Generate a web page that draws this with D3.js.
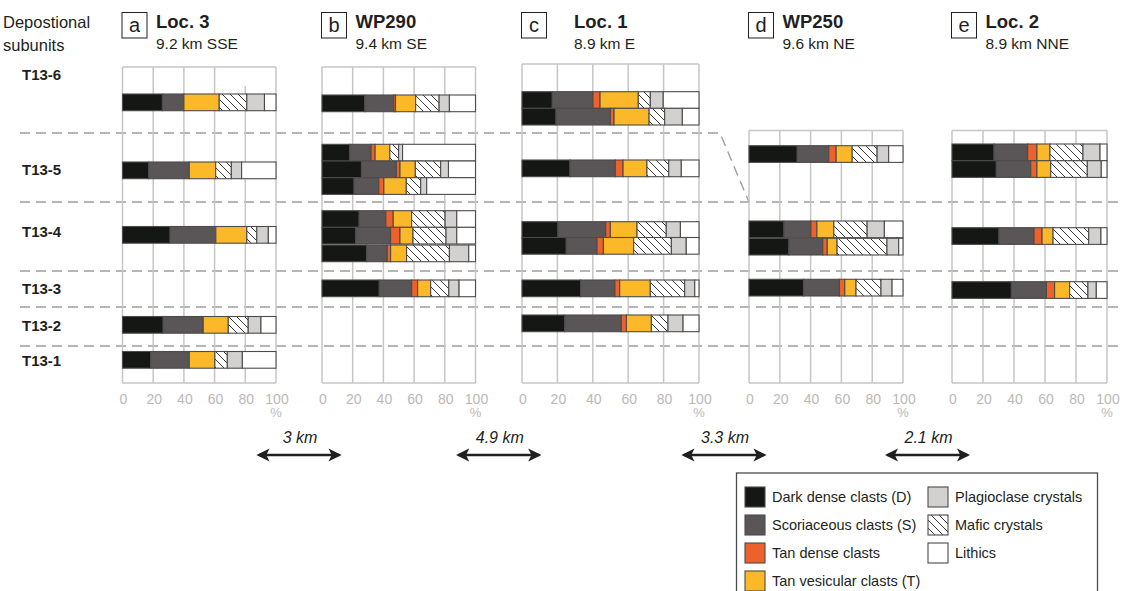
<!DOCTYPE html>
<html>
<head>
<meta charset="utf-8">
<script src="https://cdn.jsdelivr.net/npm/d3@7"></script>
<style>
  body { margin: 0; background: #fff; }
  svg { font-family: "Liberation Sans", Arial, sans-serif; }
</style>
</head>
<body>
<svg id="chart" width="1133" height="591"></svg>
<script>
// component order as stacked in each bar
const components = ["Dark dense clasts (D)", "Scoriaceous clasts (S)", "Tan dense clasts",
  "Tan vesicular clasts (T)", "Mafic crystals", "Plagioclase crystals", "Lithics"];
const fills = ["#151714", "#5a5557", "#ec612c", "#fbb829", "url(#mafic)", "#d3d1d0", "#ffffff"];

const unitLabels = ["T13-6", "T13-5", "T13-4", "T13-3", "T13-2", "T13-1"];
// stratigraphic level of unit boundaries, top to bottom
const unitBounds = [316, 250, 181, 112, 76, 37, 0];
const unitLabelLevels = [308, 213, 151, 94, 57, 22];

const panelLetters = ["a", "b", "c", "d", "e"];
const panelNames = ["Loc. 3", "WP290", "Loc. 1", "WP250", "Loc. 2"];
const panelDist = ["9.2 km SSE", "9.4 km SE", "8.9 km E", "9.6 km NE", "8.9 km NNE"];
const distances = ["3 km", "4.9 km", "3.3 km", "2.1 km"];
const ticks = [0, 20, 40, 60, 80, 100];

// bar samples: level = top of the bar, values = % of each component
const loc3 = [
  {unit: "T13-6", level: 289,   values: [26, 14, 0, 23, 18, 11.5, 7.5]},
  {unit: "T13-5", level: 221,   values: [17, 26.5, 0, 17.2, 10.2, 6.7, 22.4]},
  {unit: "T13-4", level: 156.5, values: [31, 29.8, 0, 20.2, 6.5, 7.5, 5]},
  {unit: "T13-2", level: 66.5,  values: [26.5, 26.1, 0, 16.3, 13, 8.3, 9.8]},
  {unit: "T13-1", level: 31.5,  values: [18.3, 25.2, 0, 16.7, 8.1, 9.8, 21.9]}
];
const wp290 = [
  {unit: "T13-6", level: 288,   values: [27.9, 18.9, 1.1, 13.1, 15.3, 6.7, 17]},
  {unit: "T13-5", level: 238.7, values: [18.1, 13.9, 2.6, 9.6, 5.7, 2.6, 47.5]},
  {unit: "T13-5", level: 222,   values: [25.7, 22.7, 2.4, 10, 16.5, 5.1, 17.6]},
  {unit: "T13-5", level: 205.3, values: [20.9, 16.1, 3.3, 14.6, 9.4, 3.9, 31.8]},
  {unit: "T13-4", level: 172.3, values: [24.2, 17.4, 4.8, 12, 21.8, 7.6, 12.2]},
  {unit: "T13-4", level: 155.7, values: [22, 22.7, 6.1, 8.5, 21.5, 7, 12.2]},
  {unit: "T13-4", level: 138,   values: [29, 13.5, 2.2, 10.4, 27.9, 12.6, 4.4]},
  {unit: "T13-3", level: 103,   values: [37.3, 21.1, 3.9, 8.5, 11.8, 6.7, 10.7]}
];
const loc1 = [
  {unit: "T13-6", level: 291.3, values: [17.1, 23, 4, 21.6, 6.8, 7.3, 20.2]},
  {unit: "T13-6", level: 274.7, values: [19.2, 30.7, 2.1, 19.8, 8.8, 10, 9.4]},
  {unit: "T13-5", level: 223,   values: [27.1, 25.6, 4.4, 13.5, 12.3, 7.1, 10]},
  {unit: "T13-4", level: 161.3, values: [20.3, 27, 2.6, 15.1, 16.5, 8, 10.5]},
  {unit: "T13-4", level: 145.5, values: [25, 17.4, 3.6, 17.1, 21.3, 8.4, 7.2]},
  {unit: "T13-3", level: 103,   values: [33.1, 19.4, 2.7, 17.3, 19.4, 5.7, 2.4]},
  {unit: "T13-2", level: 68,    values: [24.1, 32, 2.9, 14.1, 9.4, 8.5, 9]}
];
const wp250 = [
  {unit: "T13-5", level: 237.3, values: [31.3, 20.5, 4.8, 10.4, 16.2, 7.5, 9.3]},
  {unit: "T13-4", level: 162,   values: [22.7, 17.5, 3.9, 11, 21.6, 11.2, 12.1]},
  {unit: "T13-4", level: 144.7, values: [25.9, 22, 2.9, 6.4, 32.4, 7.6, 2.8]},
  {unit: "T13-3", level: 103.7, values: [35.4, 23.3, 3.5, 7.3, 16.2, 7.2, 7.1]}
];
const loc2 = [
  {unit: "T13-5", level: 239,   values: [27.1, 21.7, 6, 8.4, 21.3, 11, 4.5]},
  {unit: "T13-5", level: 222.3, values: [28.6, 22.2, 4, 8.9, 23.6, 9, 3.7]},
  {unit: "T13-4", level: 155.3, values: [30.3, 22.6, 5.2, 7.1, 23, 7.9, 3.9]},
  {unit: "T13-3", level: 101.3, values: [38.3, 22.6, 5.3, 9.7, 11.8, 5.4, 6.9]}
];
const panelData = [loc3, wp290, loc1, wp250, loc2];

// layout of the five columns (pixels)
const frames = [
  {x0: 122.5, x1: 276, top: 316},
  {x0: 322, x1: 475.5, top: 316},
  {x0: 522, x1: 699, top: 319},
  {x0: 749, x1: 903, top: 252.5},
  {x0: 952, x1: 1107, top: 252.5}
];
const barH = 16.7;
const gridColor = "#c9c5c5";

const svg = d3.select("#chart");

const defs = svg.append("defs");
const pat = defs.append("pattern").attr("id", "mafic")
  .attr("patternUnits", "userSpaceOnUse").attr("width", 8).attr("height", 8);
pat.append("rect").attr("width", 8).attr("height", 8).attr("fill", "#fff");
pat.append("path").attr("d", "M0,0L8,8M-2,6L2,10M6,-2L10,2")
  .attr("stroke", "#222").attr("stroke-width", 0.9);

const y = d3.scaleLinear().domain([0, 316]).range([383, 67]);

// dashed boundaries between subunits
const dashG = svg.append("g")
  .attr("fill", "none").attr("stroke", "#a09c9c")
  .attr("stroke-width", 1.4).attr("stroke-dasharray", "10,6");
unitBounds.slice(1, -1).forEach((b, i) => {
  if (i === 0) {
    dashG.append("path").attr("d", d3.line()([[20, y(b)], [720, y(b)], [frames[3].x0, y(unitBounds[2])]]));
  } else {
    dashG.append("line").attr("x1", 20).attr("x2", 1122).attr("y1", y(b)).attr("y2", y(b));
  }
});

// subunit labels
svg.append("g").selectAll("text").data(unitLabels).join("text")
  .attr("x", 22).attr("y", (d, i) => y(unitLabelLevels[i]) + 5)
  .attr("font-size", 15).attr("font-weight", "bold").attr("fill", "#231f20")
  .text(d => d);

svg.append("text").attr("x", 3).attr("y", 28).attr("font-size", 16.5).attr("fill", "#231f20").text("Depostional");
svg.append("text").attr("x", 3).attr("y", 51).attr("font-size", 16.5).attr("fill", "#231f20").text("subunits");

frames.forEach((f, p) => {
  const x = d3.scaleLinear().domain([0, 100]).range([f.x0, f.x1]);
  const g = svg.append("g");

  // frame and grid (the 80% line of Loc. 3 starts below the top edge)
  g.selectAll("line.grid").data(ticks).join("line")
    .attr("class", "grid")
    .attr("x1", d => x(d)).attr("x2", d => x(d))
    .attr("y1", d => (p === 0 && d === 80) ? y(f.top) + 19 : y(f.top)).attr("y2", y(0))
    .attr("stroke", gridColor).attr("stroke-width", 1.5);
  [f.top, 0].forEach(l => g.append("line")
    .attr("x1", x(0)).attr("x2", x(100)).attr("y1", y(l)).attr("y2", y(l))
    .attr("stroke", gridColor).attr("stroke-width", 1.5));

  // tick labels
  g.selectAll("text.tick").data(ticks).join("text")
    .attr("class", "tick")
    .attr("x", d => x(d) + 1).attr("y", 404)
    .attr("text-anchor", "middle").attr("font-size", 14).attr("fill", "#bcb7b7")
    .text(d => d);
  g.append("text").attr("x", x(100)).attr("y", 417)
    .attr("text-anchor", "middle").attr("font-size", 13).attr("fill", "#bcb7b7").text("%");

  // bars
  panelData[p].forEach(s => {
    let acc = 0;
    const segs = s.values.map((v, k) => { const seg = {k, a: acc, b: acc + v}; acc += v; return seg; })
      .filter(d => d.b - d.a > 0);
    g.append("g").selectAll("rect").data(segs).join("rect")
      .attr("x", d => x(d.a)).attr("width", d => x(d.b) - x(d.a))
      .attr("y", y(s.level)).attr("height", y(s.level - barH) - y(s.level))
      .attr("fill", d => fills[d.k])
      .attr("stroke", "#4d4b4b").attr("stroke-width", 1.1);
  });

  // header
  const hx = f.x0 - 0.5;
  g.append("rect").attr("x", hx).attr("y", 12.5).attr("width", 25).attr("height", 25.5)
    .attr("fill", "none").attr("stroke", "#231f20").attr("stroke-width", 1);
  g.append("text").attr("x", hx + 12.5).attr("y", 32).attr("text-anchor", "middle")
    .attr("font-size", 20).attr("fill", "#231f20").text(panelLetters[p]);
  const tx = p === 2 ? f.x0 + 52 : hx + 34;
  g.append("text").attr("x", tx).attr("y", 28).attr("font-size", 18.5)
    .attr("font-weight", "bold").attr("fill", "#231f20").text(panelNames[p]);
  g.append("text").attr("x", tx).attr("y", 49).attr("font-size", 15.5)
    .attr("fill", "#231f20").text(panelDist[p]);
});

// distance arrows between columns
defs.append("marker").attr("id", "head").attr("viewBox", "0 0 10 10")
  .attr("refX", 8).attr("refY", 5).attr("markerWidth", 5.5).attr("markerHeight", 5.5)
  .attr("orient", "auto-start-reverse")
  .append("path").attr("d", "M0,0L10,5L0,10L2.5,5Z").attr("fill", "#231f20");

distances.forEach((d, i) => {
  const cx = (frames[i].x1 + frames[i + 1].x0) / 2;
  svg.append("line").attr("x1", cx - 40).attr("x2", cx + 40).attr("y1", 455).attr("y2", 455)
    .attr("stroke", "#231f20").attr("stroke-width", 2.4)
    .attr("marker-start", "url(#head)").attr("marker-end", "url(#head)");
  svg.append("text").attr("x", cx + 1).attr("y", 443).attr("text-anchor", "middle")
    .attr("font-size", 16).attr("font-style", "italic").attr("fill", "#231f20").text(d);
});

// legend
const leg = svg.append("g");
leg.append("rect").attr("x", 736.5).attr("y", 473).attr("width", 361).attr("height", 130)
  .attr("fill", "#fff").attr("stroke", "#4d4b4b").attr("stroke-width", 1.3);
const legOrder = [0, 1, 2, 3, 5, 4, 6];
legOrder.forEach((k, i) => {
  const col = i < 4 ? 0 : 1;
  const row = col === 0 ? i : i - 4;
  const lx = col === 0 ? 745 : 928;
  const ly = 487 + row * 28;
  leg.append("rect").attr("x", lx).attr("y", ly).attr("width", 20).attr("height", 20)
    .attr("fill", fills[k]).attr("stroke", "#4d4b4b").attr("stroke-width", 1.1);
  leg.append("text").attr("x", lx + 27).attr("y", ly + 15).attr("font-size", 14.5)
    .attr("fill", "#231f20").text(components[k]);
});
</script>
</body>
</html>
